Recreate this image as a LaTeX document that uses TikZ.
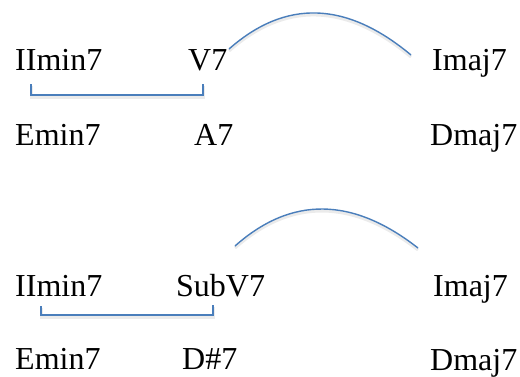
\documentclass[tikz,border=0pt]{standalone}
\usepackage{fontspec}
\setmainfont{Liberation Serif}
\definecolor{linkblue}{HTML}{4A7EBB}
\begin{document}
\begin{tikzpicture}[x=1pt,y=-1pt,
  chord/.style={anchor=base west,inner sep=0pt,font=\fontsize{32}{36}\selectfont},
  link/.style={draw=linkblue,line width=1.4pt},
  shade/.style={draw=black!8,line width=3pt,transform canvas={yshift=-2pt}}]
\useasboundingbox (0,0) rectangle (520,376);
% row 1
\node[chord] (ii1) at (15,70) {IImin7};
\node[chord] (v1) at (188,70) {V7};
\node[chord] (i1) at (432,70) {Imaj7};
\node[chord] (e1) at (15,145) {Emin7};
\node[chord] (a1) at (194,145) {A7};
\node[chord] (d1) at (430,145) {Dmaj7};
% row 2
\node[chord] (ii2) at (15,296) {IImin7};
\node[chord] (v2) at (176,296) {SubV7};
\node[chord] (i2) at (433,296) {Imaj7};
\node[chord] (e2) at (15,369) {Emin7};
\node[chord] (a2) at (182,369) {D\#7};
\node[chord] (d2) at (430,370) {Dmaj7};
% connector ends
\coordinate (b1s) at (31,84);
\coordinate (b1e) at (203,84);
\coordinate (c1s) at (229,49);
\coordinate (c1e) at (411,55);
\coordinate (b2s) at (41,306);
\coordinate (b2e) at (213,305);
\coordinate (c2s) at (235,246);
\coordinate (c2e) at (418,248);
% shadows
\path[shade] (b1s) -- (b1s |- 0,95) -- (b1e |- 0,95) -- (b1e);
\path[shade] (c1s) .. controls (285.7,-1) and (346.3,1) .. (c1e);
\path[shade] (b2s) -- (b2s |- 0,315) -- (b2e |- 0,315) -- (b2e);
\path[shade] (c2s) .. controls (291.3,196) and (352.3,196.7) .. (c2e);
% lines
\path[link] (b1s) -- (b1s |- 0,95) -- (b1e |- 0,95) -- (b1e);
\path[link] (c1s) .. controls (285.7,-1) and (346.3,1) .. (c1e);
\path[link] (b2s) -- (b2s |- 0,315) -- (b2e |- 0,315) -- (b2e);
\path[link] (c2s) .. controls (291.3,196) and (352.3,196.7) .. (c2e);
\end{tikzpicture}
\end{document}
